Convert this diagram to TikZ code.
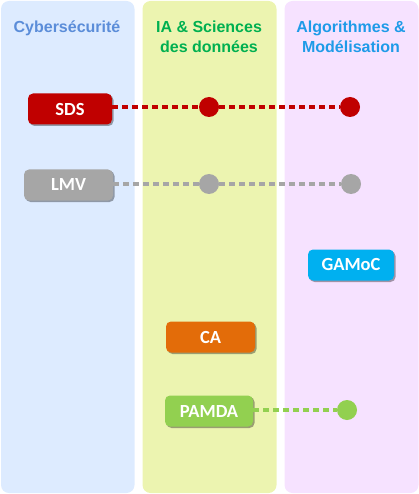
\documentclass[tikz,border=0pt]{standalone}
\usepackage{fontspec}
\setmainfont{Liberation Sans}
\newfontfamily\boxfont{Carlito}
\usetikzlibrary{shadows}
\definecolor{colA}{HTML}{DDEBFF}
\definecolor{colB}{HTML}{ECF4B0}
\definecolor{colC}{HTML}{F6E2FF}
\definecolor{titA}{HTML}{5B8DD9}
\definecolor{titB}{HTML}{00B050}
\definecolor{titC}{HTML}{1E9BE8}
\definecolor{sdsred}{HTML}{C00000}
\definecolor{lmvgray}{HTML}{A6A6A6}
\definecolor{gamocblue}{HTML}{00B0F0}
\definecolor{caorange}{HTML}{E36C09}
\definecolor{pamdagreen}{HTML}{92D050}
\tikzset{
  column/.style={fill=#1, draw=none, rounded corners=8pt},
  coltitle/.style={text=#1, font=\fontsize{16}{19.5}\selectfont\bfseries, align=center, inner sep=0pt},
  team/.style={fill=#1, text=white, rounded corners=5pt, minimum height=31pt, inner sep=0pt,
    font=\boxfont\fontsize{18.5}{20}\selectfont\bfseries,
    drop shadow={shadow xshift=1.5pt, shadow yshift=-1.5pt, opacity=0.35, fill=black}},
  link/.style={draw=#1, line width=3.5pt, dash pattern=on 6pt off 4pt},
  dot/.style={circle, fill=#1, inner sep=0pt, minimum size=20pt}
}
\begin{document}
\begin{tikzpicture}[x=1pt, y=-1pt]
\useasboundingbox (0,0) rectangle (419,494);
% columns
\path[column=colA] (1,1) rectangle (134.5,493);
\path[column=colB] (142.5,1) rectangle (276.5,493);
\path[column=colC] (284.5,1) rectangle (418.5,493);
% titles
\node[coltitle=titA, anchor=base] (tA) at (67,33) {Cybersécurité};
\node[coltitle=titB, anchor=base] (tB) at (209,52.5) {IA \& Sciences\\des données};
\node[coltitle=titC, anchor=base] (tC) at (351,52.5) {Algorithmes \&\\Modélisation};
% team boxes
\node[team=sdsred, minimum width=84pt] (sds) at (70,109) {SDS};
\node[team=lmvgray, minimum width=89pt] (lmv) at (68.5,185) {LMV};
\node[team=gamocblue, minimum width=86pt] (gamoc) at (351,265) {GAMoC};
\node[team=caorange, minimum width=89pt] (ca) at (210.5,337) {CA};
\node[team=pamdagreen, minimum width=88pt] (pamda) at (209,411) {PAMDA};
% dots
\node[dot=sdsred] (sds2) at (209,107) {};
\node[dot=sdsred] (sds3) at (350,107) {};
\node[dot=lmvgray] (lmv2) at (209,184) {};
\node[dot=lmvgray] (lmv3) at (351,184) {};
\node[dot=pamdagreen] (pamda3) at (347,410) {};
% links
\draw[link=sdsred] (sds.east |- sds2) -- (sds2) -- (sds3);
\draw[link=lmvgray] (lmv.east |- lmv2) -- (lmv2) -- (lmv3);
\draw[link=pamdagreen] (pamda.east |- pamda3) -- (pamda3);
\end{tikzpicture}
\end{document}
